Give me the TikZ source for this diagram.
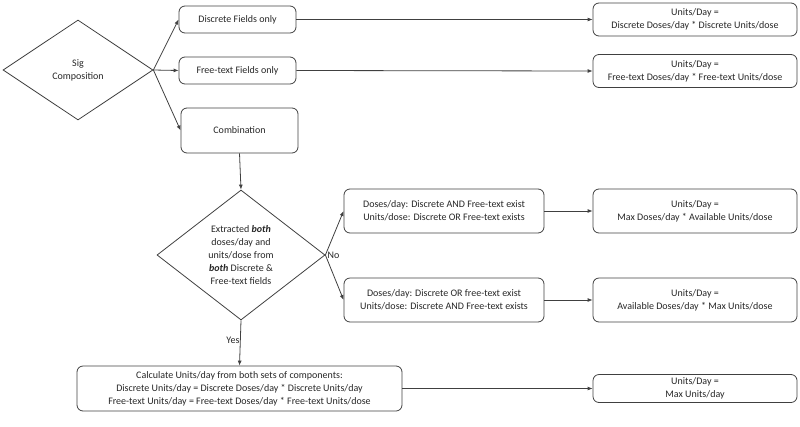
\documentclass[tikz,border=0pt]{standalone}
\usepackage{fontspec}
\setmainfont{Carlito}
\usetikzlibrary{shapes.geometric,arrows.meta}
\definecolor{linec}{HTML}{404040}
\definecolor{textc}{HTML}{262626}
\begin{document}
\begin{tikzpicture}[x=1pt, y=-1pt,
    every node/.style={align=center, text=textc, font=\fontsize{10}{13}\selectfont},
    box/.style={draw=linec, line width=0.8pt, rounded corners=6pt, inner sep=0pt},
    choice/.style={draw=linec, line width=0.8pt, diamond, inner sep=0pt},
    arr/.style={-{Latex[length=5pt,width=4pt]}, line width=0.8pt, draw=linec}]
    \useasboundingbox (0,0) rectangle (800,426);
    % left column
    \node[choice, minimum width=150, minimum height=100, aspect=1.5] (sig) at (78,70) {Sig\\Composition};
    \node[box, minimum width=117, minimum height=27] (discrete) at (237.5,19.5) {Discrete Fields only};
    \node[box, minimum width=117, minimum height=27] (freetext) at (237.5,70.5) {Free-text Fields only};
    \node[box, minimum width=117, minimum height=45] (comb) at (239.5,130.5) {Combination};
    \node[choice, minimum width=168, minimum height=130, aspect=1.29] (extract) at (241,255)
        {Extracted \textbf{\textit{both}}\\doses/day and\\units/dose from\\\textbf{\textit{both}} Discrete \&\\Free-text fields};
    \node[box, minimum width=325, minimum height=45] (calc) at (239.5,388.5)
        {Calculate Units/day from both sets of components:\\Discrete Units/day = Discrete Doses/day * Discrete Units/day\\Free-text Units/day = Free-text Doses/day * Free-text Units/dose};
    % middle column
    \node[box, minimum width=200, minimum height=44] (dosesand) at (444,211)
        {Doses/day: Discrete AND Free-text exist\\Units/dose: Discrete OR Free-text exists};
    \node[box, minimum width=200, minimum height=44] (dosesor) at (444,300)
        {Doses/day: Discrete OR free-text exist\\Units/dose: Discrete AND Free-text exists};
    % results
    \node[box, minimum width=204, minimum height=33] (discres) at (695,19.5)
        {Units/Day =\\Discrete Doses/day * Discrete Units/dose};
    \node[box, minimum width=204, minimum height=33] (freeres) at (695,71)
        {Units/Day =\\Free-text Doses/day * Free-text Units/dose};
    \node[box, minimum width=204, minimum height=44] (maxdoses) at (695,211)
        {Units/Day =\\Max Doses/day * Available Units/dose};
    \node[box, minimum width=204, minimum height=44] (maxunits) at (695,300)
        {Units/Day =\\Available Doses/day * Max Units/dose};
    \node[box, minimum width=204, minimum height=28] (maxday) at (695,388.5)
        {Units/Day =\\Max Units/day};
    % connectors
    \draw[arr] (sig.east) -- (discrete.west);
    \draw[arr] (sig.east) -- (freetext.west);
    \draw[arr] (sig.east) -- (comb.west);
    \draw[arr] (discrete.east) -- (discres.west);
    \draw[arr] (freetext.east) -- (freeres.west);
    \draw[arr] (comb.south) -- (extract.north);
    \draw[arr] (extract.east) -- (dosesand.west);
    \draw[arr] (extract.east) -- (dosesor.west);
    \node[anchor=west, inner sep=2pt] (no) at (extract.east) {No};
    \draw[arr] (dosesand.east) -- (maxdoses.west);
    \draw[arr] (dosesor.east) -- (maxunits.west);
    \draw[arr] (extract.south) -- node[pos=0.45, left, inner sep=0.5pt] (yes) {Yes} (calc.north);
    \draw[arr] (calc.east) -- (maxday.west);
\end{tikzpicture}
\end{document}
